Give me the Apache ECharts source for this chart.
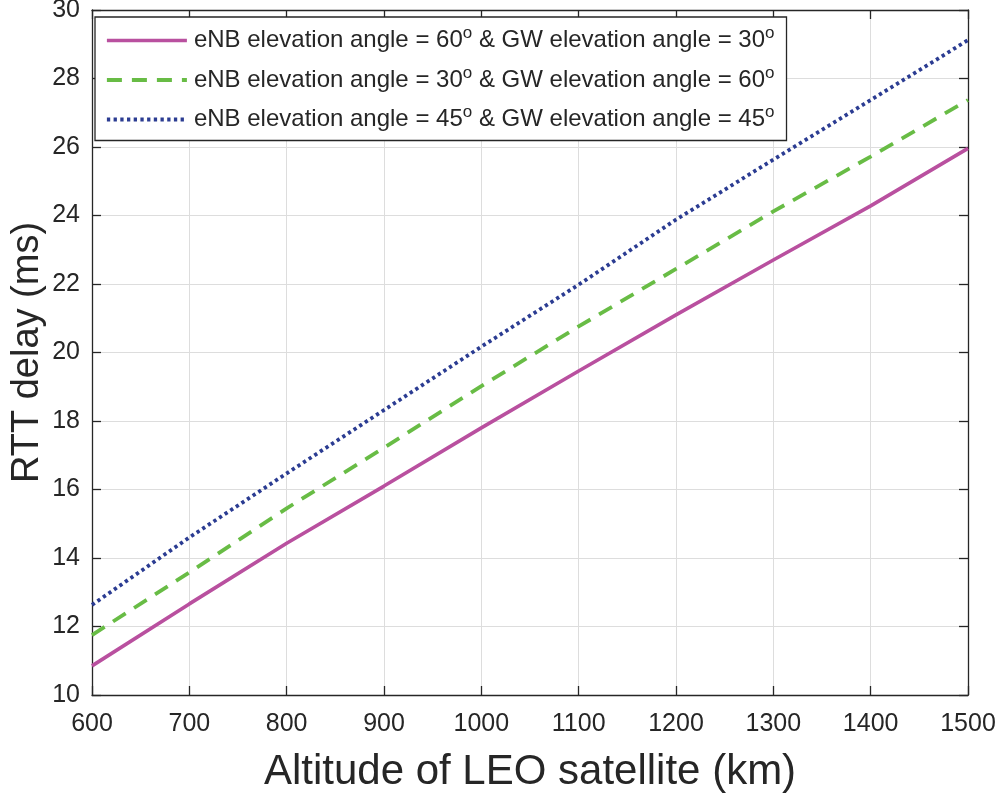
<!DOCTYPE html>
<html>
<head>
<meta charset="utf-8">
<script src="https://cdn.jsdelivr.net/npm/echarts@6/dist/echarts.min.js"></script>
<style>
html,body{margin:0;padding:0;background:#fff;}
#chart{width:1000px;height:798px;}
</style>
</head>
<body>
<div id="chart"></div>
<script>
// Data
var altitude = [600, 700, 800, 900, 1000, 1100, 1200, 1300, 1400, 1500];
var rtt_eNB60_GW30 = [10.85, 12.66, 14.43, 16.1, 17.8, 19.46, 21.1, 22.7, 24.28, 25.96];
var rtt_eNB30_GW60 = [11.75, 13.58, 15.45, 17.22, 19.02, 20.76, 22.44, 24.12, 25.72, 27.37];
var rtt_eNB45_GW45 = [12.63, 14.6, 16.47, 18.32, 20.17, 21.98, 23.88, 25.63, 27.37, 29.12];
var eNBAngles = [60, 30, 45];
var gwAngles = [30, 60, 45];
var xTicks = {min: 600, max: 1500, interval: 100};
var yTicks = {min: 10, max: 30, interval: 2};

var FONT = "'Liberation Sans', Arial, Helvetica, sans-serif";
var seriesData = [rtt_eNB60_GW30, rtt_eNB30_GW60, rtt_eNB45_GW45];
var names = eNBAngles.map(function (a, i) {
  return 'eNB elevation angle = ' + a + 'o & GW elevation angle = ' + gwAngles[i] + 'o';
});
var legendRich = {};
eNBAngles.forEach(function (a, i) {
  legendRich[names[i]] = 'eNB elevation angle = ' + a + '{sup|o} & GW elevation angle = ' + gwAngles[i] + '{sup|o}';
});

var colors = ['#B9509F', '#68BC45', '#2B3C92'];
var lineTypes = ['solid', [15, 10], [3.3, 3.4]];
var widths = [3.6, 3.8, 3.8];

var textColor = '#262626';
var chart = echarts.init(document.getElementById('chart'), null, {renderer: 'canvas'});

var axisCommon = {
  axisLine: {show: true, onZero: false, lineStyle: {color: textColor, width: 1.3}},
  axisTick: {show: true, inside: true, length: 9, lineStyle: {color: textColor, width: 1.3}}
};

var option = {
  backgroundColor: '#ffffff',
  animation: false,
  grid: {left: 92, right: 32, top: 10, bottom: 103, containLabel: false, outerBoundsMode: 'none'},
  legend: {
    orient: 'vertical',
    left: 95,
    top: 17,
    padding: [8, 12, 9, 10],
    itemGap: 12,
    itemWidth: 80,
    itemHeight: 14,
    backgroundColor: '#ffffff',
    borderColor: textColor,
    borderWidth: 1.3,
    itemStyle: {opacity: 0},
    data: names.map(function (n, i) {
      return {name: n, lineStyle: {color: colors[i], width: widths[i], type: lineTypes[i], cap: 'butt'}, itemStyle: {opacity: 0}};
    }),
    formatter: function (n) { return legendRich[n]; },
    textStyle: {
      fontFamily: FONT,
      fontSize: 24,
      color: textColor,
      padding: [0, 0, 0, 2],
      rich: {
        sup: {fontSize: 17, fontFamily: FONT, color: textColor, padding: [0, 0, 14, 0]}
      }
    }
  },
  xAxis: [
    Object.assign({
      type: 'value', min: xTicks.min, max: xTicks.max, interval: xTicks.interval,
      position: 'bottom',
      name: 'Altitude of LEO satellite (km)',
      nameLocation: 'middle',
      nameGap: 56,
      nameTextStyle: {fontFamily: FONT, fontSize: 42, color: textColor},
      axisLabel: {fontFamily: FONT, fontSize: 25, color: textColor, margin: 17,
        formatter: function (v) { return String(v); }},
      splitLine: {show: true, lineStyle: {color: '#dddddd', width: 1}}
    }, axisCommon),
    Object.assign({
      type: 'value', min: xTicks.min, max: xTicks.max, interval: xTicks.interval,
      position: 'top',
      axisLabel: {show: false},
      splitLine: {show: false}
    }, axisCommon)
  ],
  yAxis: [
    Object.assign({
      type: 'value', min: yTicks.min, max: yTicks.max, interval: yTicks.interval,
      position: 'left',
      name: 'RTT delay (ms)',
      nameLocation: 'middle',
      nameGap: 45,
      nameMoveOverlap: false,
      nameTextStyle: {fontFamily: FONT, fontSize: 38, color: textColor},
      axisLabel: {fontFamily: FONT, fontSize: 25, color: textColor, margin: 12,
        formatter: function (v) { return String(v); }},
      splitLine: {show: true, lineStyle: {color: '#dddddd', width: 1}}
    }, axisCommon),
    Object.assign({
      type: 'value', min: yTicks.min, max: yTicks.max, interval: yTicks.interval,
      position: 'right',
      axisLabel: {show: false},
      splitLine: {show: false}
    }, axisCommon)
  ],
  series: seriesData.map(function (vals, i) {
    return {
      name: names[i],
      type: 'line',
      xAxisIndex: 0,
      yAxisIndex: 0,
      symbol: 'none',
      smooth: false,
      data: altitude.map(function (x, j) { return [x, vals[j]]; }),
      lineStyle: {color: colors[i], width: widths[i], type: lineTypes[i], cap: 'butt'},
      itemStyle: {color: colors[i]},
      z: 3 + (2 - i)
    };
  })
};
chart.setOption(option);
</script>
</body>
</html>
